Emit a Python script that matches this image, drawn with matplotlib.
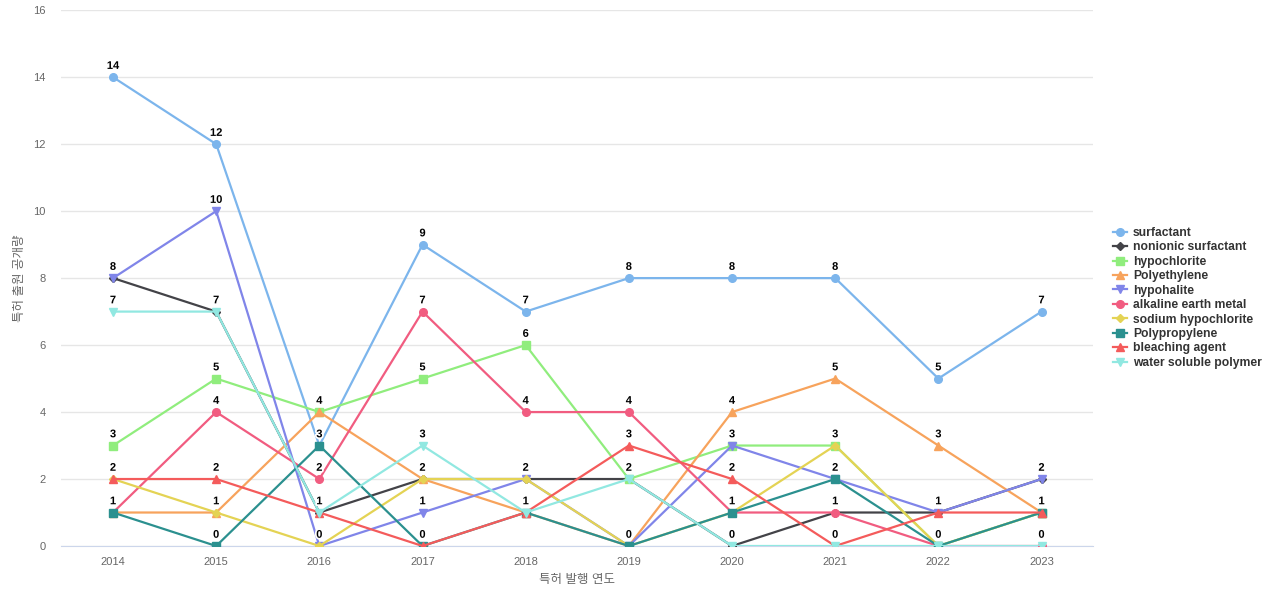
import matplotlib.pyplot as plt
import matplotlib.patheffects as pe

plt.rcParams['font.family'] = ['Liberation Sans', 'Noto Sans CJK KR', 'DejaVu Sans']

years = [2014, 2015, 2016, 2017, 2018, 2019, 2020, 2021, 2022, 2023]

surfactant = [14, 12, 3, 9, 7, 8, 8, 8, 5, 7]
nonionic_surfactant = [8, 7, 1, 2, 2, 2, 0, 1, 1, 2]
hypochlorite = [3, 5, 4, 5, 6, 2, 3, 3, 0, 1]
polyethylene = [1, 1, 4, 2, 1, 0, 4, 5, 3, 1]
hypohalite = [8, 10, 0, 1, 2, 0, 3, 2, 1, 2]
alkaline_earth_metal = [1, 4, 2, 7, 4, 4, 1, 1, 0, 0]
sodium_hypochlorite = [2, 1, 0, 2, 2, 0, 1, 3, 0, 1]
polypropylene = [1, 0, 3, 0, 1, 0, 1, 2, 0, 1]
bleaching_agent = [2, 2, 1, 0, 1, 3, 2, 0, 1, 1]
water_soluble_polymer = [7, 7, 1, 3, 1, 2, 0, 0, 0, 0]

series = [
    ("surfactant", surfactant, "#7cb5ec", "o"),
    ("nonionic surfactant", nonionic_surfactant, "#434348", "D"),
    ("hypochlorite", hypochlorite, "#90ed7d", "s"),
    ("Polyethylene", polyethylene, "#f7a35c", "^"),
    ("hypohalite", hypohalite, "#8085e9", "v"),
    ("alkaline earth metal", alkaline_earth_metal, "#f15c80", "o"),
    ("sodium hypochlorite", sodium_hypochlorite, "#e4d354", "D"),
    ("Polypropylene", polypropylene, "#2b908f", "s"),
    ("bleaching agent", bleaching_agent, "#f45b5b", "^"),
    ("water soluble polymer", water_soluble_polymer, "#91e8e1", "v"),
]

fig = plt.figure(figsize=(12.8, 6), dpi=100)
ax = fig.add_axes([0.048, 0.09, 0.806, 0.893])

xs = list(range(len(years)))
for name, vals, color, marker in series:
    ms = 4 if marker == "D" else 5.5
    ax.plot(xs, vals, color=color, lw=1.6, marker=marker, ms=ms, label=name, zorder=3)

# one label per point, like the overlapping-label hiding in the original
seen = set()
for name, vals, color, marker in series:
    for x, v in zip(xs, vals):
        if (x, v) in seen:
            continue
        seen.add((x, v))
        ax.annotate(str(v), (x, v), xytext=(0, 4.5), textcoords="offset points",
                    ha="center", va="bottom", fontsize=8, fontweight="bold",
                    color="black", zorder=5,
                    path_effects=[pe.withStroke(linewidth=2.5, foreground="white")])

ax.set_xlim(-0.5, len(years) - 0.5)
ax.set_ylim(0, 16)
ax.set_yticks(range(0, 17, 2))
ax.set_xticks(xs)
ax.set_xticklabels([str(y) for y in years])
ax.tick_params(axis="both", length=0, labelsize=8, colors="#666666")
ax.tick_params(axis="y", pad=11.5)
ax.tick_params(axis="x", pad=8)
ax.grid(axis="y", color="#e6e6e6", lw=1)
ax.set_axisbelow(True)
for s in ["top", "right", "left"]:
    ax.spines[s].set_visible(False)
ax.spines["bottom"].set_color("#ccd6eb")

ax.set_xlabel("특허 발행 연도", fontsize=9, color="#666666", labelpad=5)
ax.set_ylabel("특허 출원 공개량", fontsize=9, color="#666666", labelpad=5)

leg = ax.legend(loc="center left", bbox_to_anchor=(1.015, 0.463), frameon=False,
                prop={"weight": "bold", "size": 8.7}, labelspacing=0.2,
                handlelength=1.1, handletextpad=0.5, borderaxespad=0)
for t in leg.get_texts():
    t.set_color("#333333")

fig.savefig("out.png", dpi=100)
